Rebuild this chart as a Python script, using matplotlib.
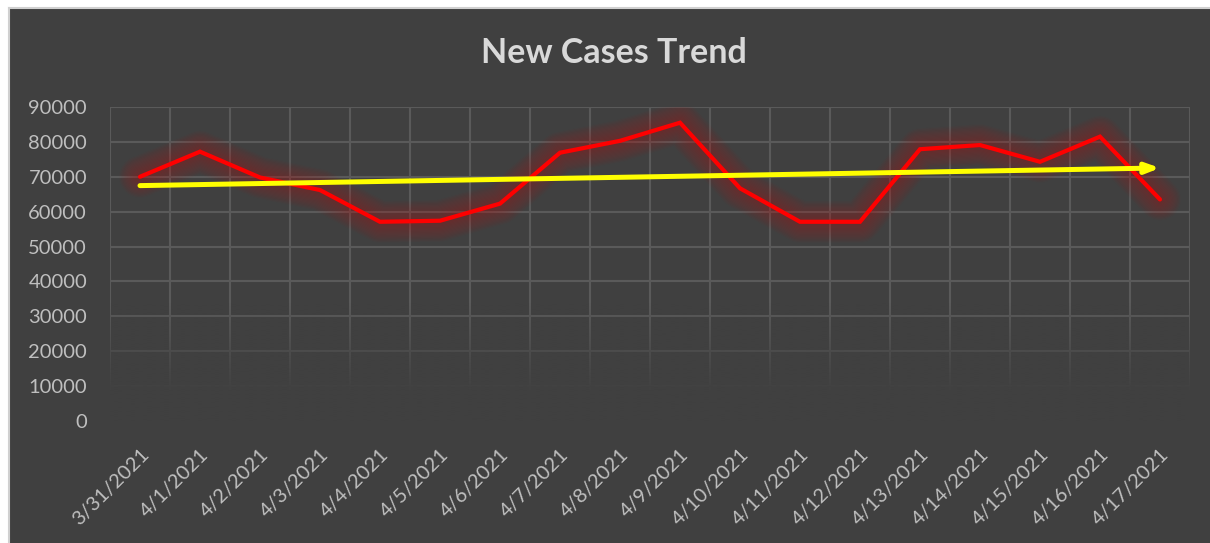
import numpy as np
import matplotlib
matplotlib.use("Agg")
import matplotlib.pyplot as plt
from matplotlib.patches import Rectangle
from matplotlib.lines import Line2D
import matplotlib.transforms as mtransforms

# ---- data ----
dates = ["3/31/2021", "4/1/2021", "4/2/2021", "4/3/2021", "4/4/2021", "4/5/2021",
         "4/6/2021", "4/7/2021", "4/8/2021", "4/9/2021", "4/10/2021", "4/11/2021",
         "4/12/2021", "4/13/2021", "4/14/2021", "4/15/2021", "4/16/2021", "4/17/2021"]
new_cases = [70000, 77200, 69800, 66200, 57100, 57400, 62300, 76900, 80300,
             85500, 66700, 57100, 57100, 77900, 79100, 74300, 81500, 63500]
y_ticks = [0, 10000, 20000, 30000, 40000, 50000, 60000, 70000, 80000, 90000]
title = "New Cases Trend"

BG = "#404040"
GRID = "#5a5a5a"
TXT = "#bfbfbf"

plt.rcParams['font.family'] = ['Lato', 'DejaVu Sans']

W, H = 1210, 543
fig = plt.figure(figsize=(W / 100, H / 100), dpi=100)
fig.patch.set_facecolor("white")
# dark chart area with thin light border on top/left
fig.patches.append(Rectangle((10 / W, 0), 1 - 10 / W, 1 - 9 / H, transform=fig.transFigure,
                             facecolor=BG, edgecolor="none", zorder=-10))
fig.lines.append(Line2D([9 / W, 9 / W], [0, 1 - 8 / H], transform=fig.transFigure, color="#d0d0d0", lw=1.5, zorder=-9))
fig.lines.append(Line2D([9 / W, 1], [1 - 8 / H, 1 - 8 / H], transform=fig.transFigure, color="#d0d0d0", lw=1.5, zorder=-9))

ax = fig.add_axes([110 / W, 1 - 421 / H, 1080 / W, 314 / H])
ax.set_facecolor("none")
x = np.arange(len(dates))

ax.set_xlim(-0.5, len(dates) - 0.5)
ax.set_ylim(0, 90000)
ax.set_yticks(y_ticks)
ax.set_yticklabels([str(v) for v in y_ticks])
ax.set_xticks(x)
ax.set_xticklabels(dates, rotation=45, ha="right", va="center", rotation_mode="anchor")
ax.set_xticks(np.arange(-0.5, len(dates), 1.0), minor=True)
ax.tick_params(axis="both", which="both", length=0, colors=TXT, labelsize=14.5)
ax.tick_params(axis="y", pad=16.5)
ax.tick_params(axis="x", pad=22)
ax.yaxis.grid(True, color=GRID, lw=1.5)
ax.xaxis.grid(True, which="minor", color=GRID, lw=1.5)
ax.xaxis.grid(False, which="major")
ax.set_axisbelow(True)
for s in ax.spines.values():
    s.set_visible(False)

offset = mtransforms.ScaledTranslation(6 / 100, 0, fig.dpi_scale_trans)
for lbl in ax.get_xticklabels():
    lbl.set_transform(lbl.get_transform() + offset)

# fade-out of the lower gridlines
grad = np.zeros((200, 1, 4))
rgb = matplotlib.colors.to_rgb(BG)
yy = np.linspace(0, 90000, 200)
alpha = np.clip((34000 - yy) / (34000 - 8000), 0, 1)
grad[:, 0, 0:3] = rgb
grad[:, 0, 3] = alpha
ax.imshow(grad, extent=(-0.5, len(dates) - 0.5, 0, 90000), origin="lower",
          aspect="auto", zorder=1, interpolation="bilinear")

# red glow
for w in np.linspace(30, 4, 16):
    ax.plot(x, new_cases, color="#d01010", lw=w, alpha=0.022, solid_capstyle="round",
            solid_joinstyle="round", zorder=2)
ax.plot(x, new_cases, color="#ff0000", lw=3.0, solid_capstyle="round",
        solid_joinstyle="miter", zorder=3)

# linear trend line
coef = np.polyfit(x, new_cases, 1)
x0, x1 = x[0], x[-1]
y0, y1 = np.polyval(coef, x0), np.polyval(coef, x1)
ax.annotate("", xy=(x1, y1), xytext=(x0, y0),
            arrowprops=dict(arrowstyle="-|>,head_length=0.8,head_width=0.3",
                            color="#ffff00", lw=3.6, capstyle="round",
                            shrinkA=0, shrinkB=0), zorder=5)

fig.text(614 / W, 1 - 63 / H, title, ha="center", va="baseline", fontsize=24.5,
         fontweight="bold", color="#d9d9d9")

fig.savefig("out.png", dpi=100, facecolor=fig.get_facecolor())
